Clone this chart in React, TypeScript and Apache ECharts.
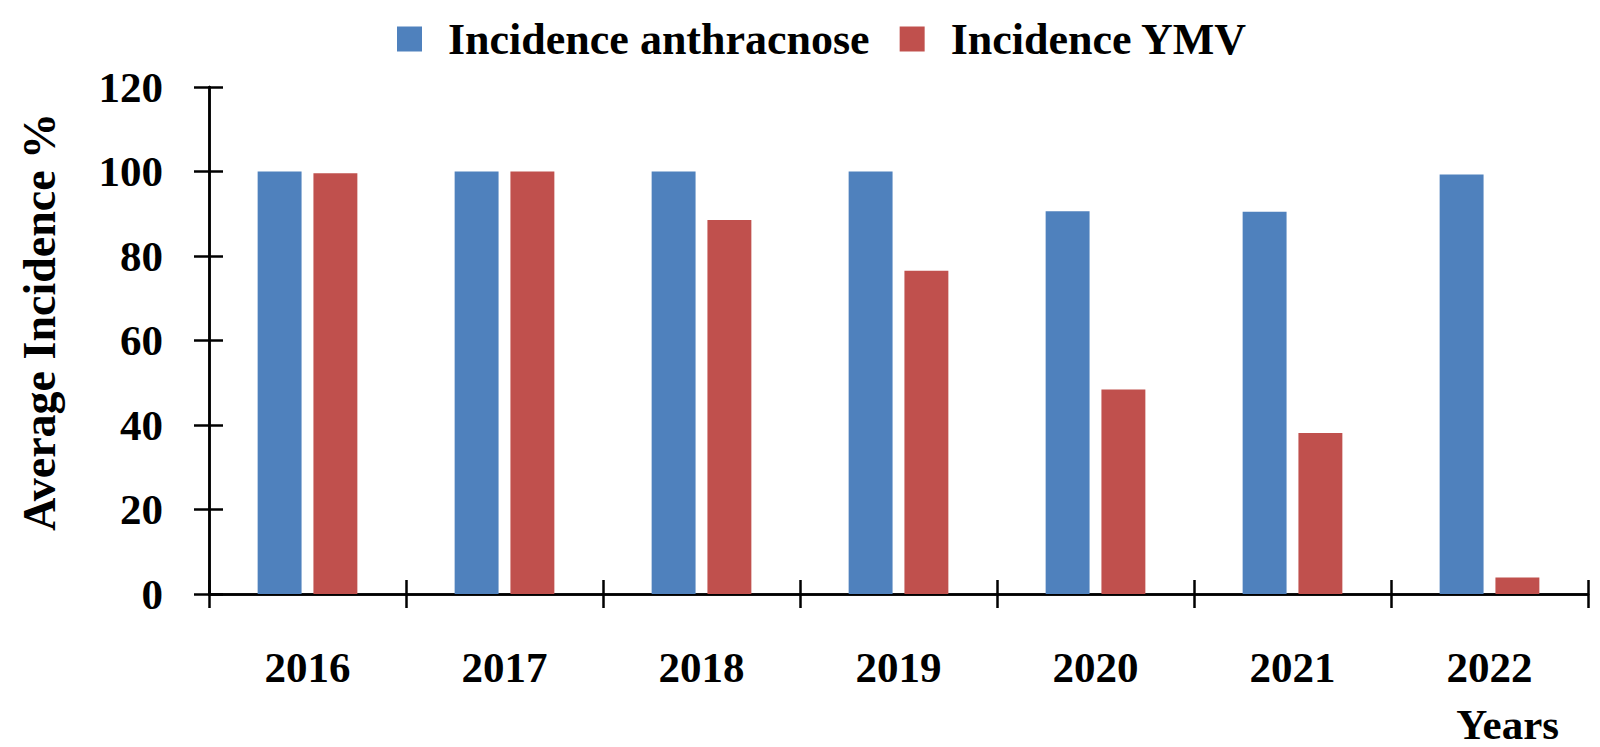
import React, { useEffect, useRef } from "react";
import * as echarts from "echarts";

const years = ["2016", "2017", "2018", "2019", "2020", "2021", "2022"];
const anthracnose = [100, 100, 100, 100, 90.6, 90.5, 99.3];
const ymv = [99.6, 100, 88.5, 76.5, 48.4, 38.1, 3.9];
const seriesNames = ["Incidence anthracnose", "Incidence YMV"];
const yTitle = "Average Incidence %";
const xTitle = "Years";

const FONT = "'Liberation Serif', 'Times New Roman', serif";
const BLUE = "#4F81BD";
const RED = "#C0504D";

export default function App() {
  const ref = useRef<HTMLDivElement>(null);
  useEffect(() => {
    if (!ref.current) return;
    const chart = echarts.init(ref.current, undefined, { renderer: "svg" });
    const axisLine = { show: true, lineStyle: { color: "#000", width: 2.5 } };
    chart.setOption({
      animation: false,
      backgroundColor: "#fff",
      textStyle: { fontFamily: FONT },
      legend: {
        left: 392,
        top: 12,
        itemWidth: 25,
        itemHeight: 25,
        itemGap: 30,
        icon: "rect",
        data: seriesNames,
        textStyle: {
          fontFamily: FONT,
          fontWeight: "bold",
          fontSize: 44,
          color: "#000",
          padding: [0, 0, 0, 21],
        },
      },
      grid: { left: 209, right: 12, top: 87, bottom: 153, containLabel: false },
      xAxis: [
        {
          type: "category",
          data: years,
          position: "bottom",
          axisLine,
          axisTick: { show: true, length: 14, lineStyle: { color: "#000", width: 2.5 } },
          axisLabel: {
            margin: 52,
            fontFamily: FONT,
            fontWeight: "bold",
            fontSize: 43,
            color: "#000",
          },
          splitLine: { show: false },
        },
        {
          type: "category",
          data: years,
          position: "bottom",
          axisLine,
          axisTick: { show: true, inside: true, length: 14, lineStyle: { color: "#000", width: 2.5 } },
          axisLabel: { show: false },
          splitLine: { show: false },
        },
      ],
      yAxis: [
        {
          type: "value",
          min: 0,
          max: 120,
          interval: 20,
          position: "left",
          axisLine,
          axisTick: { show: true, length: 15, lineStyle: { color: "#000", width: 2.5 } },
          axisLabel: {
            margin: 46,
            fontFamily: FONT,
            fontWeight: "bold",
            fontSize: 43,
            color: "#000",
          },
          splitLine: { show: false },
        },
        {
          type: "value",
          min: 0,
          max: 120,
          interval: 20,
          position: "left",
          axisLine,
          axisTick: { show: true, inside: true, length: 14, lineStyle: { color: "#000", width: 2.5 } },
          axisLabel: { show: false },
          splitLine: { show: false },
        },
      ],
      series: [
        {
          name: seriesNames[0],
          type: "bar",
          data: anthracnose,
          barWidth: "22.3%",
          barGap: "27%",
          itemStyle: { color: BLUE },
        },
        {
          name: seriesNames[1],
          type: "bar",
          data: ymv,
          barWidth: "22.3%",
          barGap: "27%",
          itemStyle: { color: RED },
        },
      ],
      graphic: [
        {
          type: "text",
          x: 39,
          y: 322,
          rotation: Math.PI / 2,
          style: {
            text: yTitle,
            font: `bold 46px ${FONT}`,
            fill: "#000",
            textAlign: "center",
            textVerticalAlign: "middle",
          },
        },
        {
          type: "text",
          x: 1559,
          y: 724,
          style: {
            text: xTitle,
            font: `bold 43px ${FONT}`,
            fill: "#000",
            textAlign: "right",
            textVerticalAlign: "middle",
          },
        },
      ],
    });
    return () => chart.dispose();
  }, []);
  return (
    <div
      ref={ref}
      style={{ position: "fixed", left: 0, top: 0, width: 1600, height: 747, background: "#fff" }}
    />
  );
}
